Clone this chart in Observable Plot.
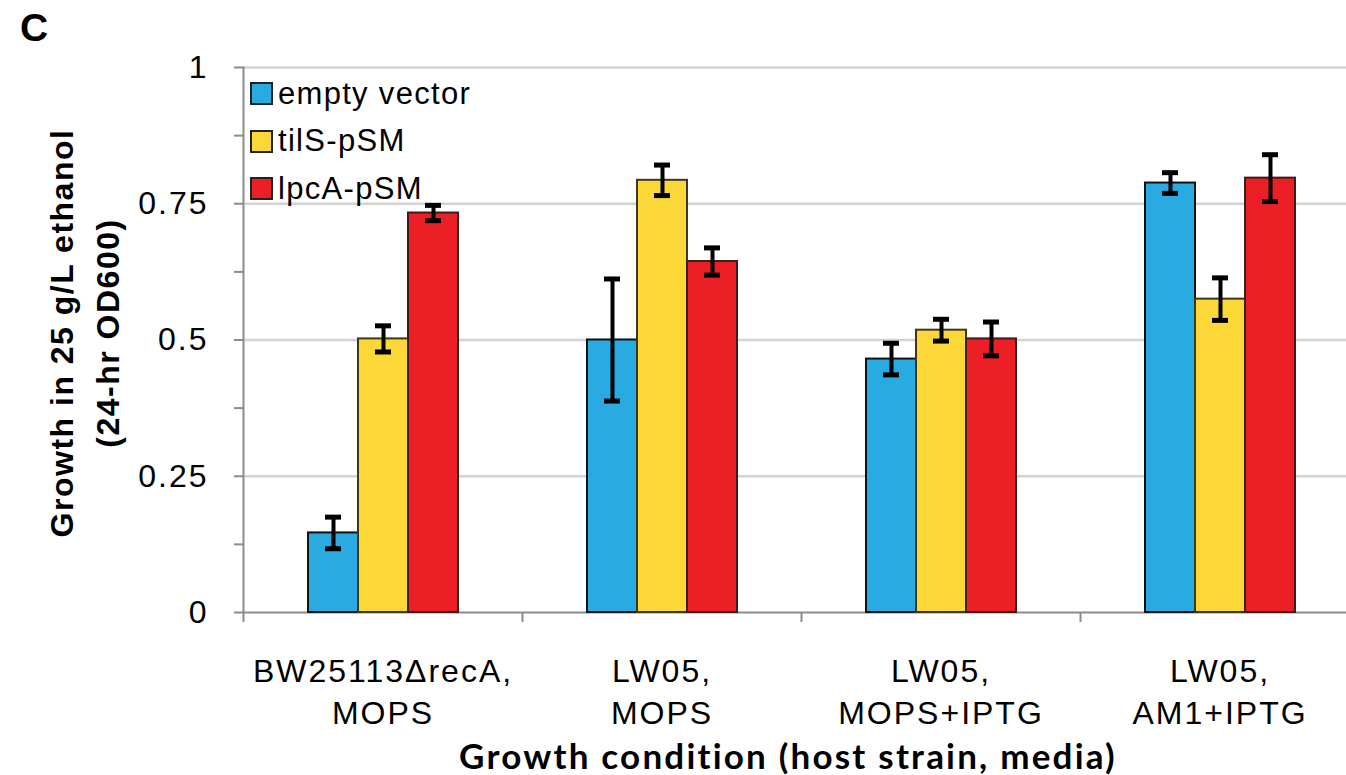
<!DOCTYPE html>
<html><head><meta charset="utf-8">
<script src="https://cdn.jsdelivr.net/npm/d3@7"></script>
<script src="https://cdn.jsdelivr.net/npm/@observablehq/plot@0.6"></script>
<style>
body{margin:0;background:#fff;}
#wrap{position:relative;width:1346px;height:775px;overflow:hidden;font-family:"Liberation Sans",Arial,sans-serif;color:#000;}
#wrap svg{position:absolute;left:0;top:0;}
.panel{position:absolute;left:20px;top:6px;font-size:39px;font-weight:bold;}
.ytitle{position:absolute;left:85px;top:333px;transform:translate(-50%,-50%) rotate(-90deg);white-space:nowrap;text-align:center;font-size:32px;font-weight:bold;line-height:46px;letter-spacing:1.5px;}
.xtitle{position:absolute;left:788px;top:755px;transform:translate(-50%,-50%);white-space:nowrap;font-family:Lato,"Open Sans",sans-serif;font-size:35px;line-height:35px;font-weight:bold;letter-spacing:2.2px;}
.legend{position:absolute;left:250px;top:70px;}
.legend .row{display:flex;align-items:center;height:47.5px;font-size:31px;letter-spacing:1.3px;}
.legend .sw{width:19px;height:19px;border:2px solid #222;margin-right:5px;flex:none;}
</style></head><body><div id="wrap"></div>
<script>
// ---- data ----
const conditions = ["BW25113ΔrecA,\nMOPS", "LW05,\nMOPS", "LW05,\nMOPS+IPTG", "LW05,\nAM1+IPTG"];
const series = ["empty vector", "tilS-pSM", "lpcA-pSM"];
const emptyVector    = [0.146, 0.500, 0.465, 0.788];
const emptyVectorErr = [0.029, 0.112, 0.029, 0.019];
const tilS           = [0.502, 0.793, 0.518, 0.575];
const tilSErr        = [0.024, 0.028, 0.020, 0.039];
const lpcA           = [0.733, 0.644, 0.502, 0.797];
const lpcAErr        = [0.014, 0.025, 0.031, 0.043];
const yTicks = [0, 0.125, 0.25, 0.375, 0.5, 0.625, 0.75, 0.875, 1];
const yMajor = [0, 0.25, 0.5, 0.75, 1];
const yTickLabels = ["0", "0.25", "0.5", "0.75", "1"];
const gridValues = [0.25, 0.5, 0.75, 1];
const colors = ["#29abe2", "#fbd737", "#ec1f26"];
const outlines = ["#111111", "#3d3620", "#3d1c1c"];
const panelLabel = "C";
const yTitle = ["Growth in 25 g/L ethanol", "(24-hr OD600)"];
const xTitle = "Growth condition (host strain, media)";

const values = [emptyVector, tilS, lpcA];
const errs = [emptyVectorErr, tilSErr, lpcAErr];
const rows = [];
conditions.forEach((c, i) => series.forEach((s, j) => rows.push({cond: c, series: s, value: values[j][i], err: errs[j][i]})));

const W = 1346, H = 775, mL = 243, mR = -13, mT = 67, mB = 163;
const step = (W - mL - mR) / conditions.length;
const font = '"Liberation Sans", Arial, sans-serif';

const barMarks = series.map((s, j) => Plot.barY(rows.filter(r => r.series === s), {
  fx: "cond", x: "series", y: "value", fill: colors[j], stroke: outlines[j], strokeWidth: 2
}));

const plot = Plot.plot({
  width: W, height: H,
  marginLeft: mL, marginRight: mR, marginTop: mT, marginBottom: mB,
  style: {fontFamily: font, background: "transparent", color: "#000"},
  fx: {domain: conditions, padding: 0, axis: null, label: null},
  x: {domain: series, paddingInner: 0, paddingOuter: 1.29, axis: null, label: null},
  y: {domain: [0, 1], axis: null, label: null},
  marks: [
    Plot.ruleY(gridValues, {stroke: "#d2d2d2", strokeWidth: 2.5}),
    Plot.ruleY([0], {stroke: "#8c8c8c", strokeWidth: 2}),
    ...barMarks,
    Plot.ruleX(rows, {fx: "cond", x: "series", y1: d => d.value - d.err, y2: d => d.value + d.err, stroke: "#000", strokeWidth: 4}),
    Plot.tickY(rows, {fx: "cond", x: "series", y: d => d.value - d.err, insetLeft: 17, insetRight: 17, stroke: "#000", strokeWidth: 5}),
    Plot.tickY(rows, {fx: "cond", x: "series", y: d => d.value + d.err, insetLeft: 17, insetRight: 17, stroke: "#000", strokeWidth: 5}),
    Plot.axisY({ticks: yTicks, tickSize: 9, tickPadding: 26, stroke: "#8c8c8c", strokeWidth: 2,
      tickFormat: d => { const k = yMajor.indexOf(d); return k < 0 ? "" : yTickLabels[k]; },
      fontSize: 32, fill: "#000", label: null}),
    Plot.frame({anchor: "left", facetAnchor: "left", stroke: "#8c8c8c", strokeWidth: 2}),
    Plot.axisFx({anchor: "bottom", tickSize: 0, tickPadding: 40, fontSize: 32, lineHeight: 1.3, fill: "#000", label: null}),
    Plot.axisFx({anchor: "bottom", tickSize: 10, tickFormat: () => "", dx: -step / 2, stroke: "#8c8c8c", strokeWidth: 2, label: null})
  ]
});

const wrap = document.getElementById("wrap");
wrap.appendChild(plot);
plot.querySelectorAll('[aria-label="fx-axis tick label"] text, [aria-label="y-axis tick label"] text').forEach(t => t.style.letterSpacing = "2px");

const pl = document.createElement("div"); pl.className = "panel"; pl.textContent = panelLabel; wrap.appendChild(pl);
const yt = document.createElement("div"); yt.className = "ytitle"; yt.innerHTML = yTitle.join("<br>"); wrap.appendChild(yt);
const xt = document.createElement("div"); xt.className = "xtitle"; xt.textContent = xTitle; wrap.appendChild(xt);
const lg = document.createElement("div"); lg.className = "legend";
series.forEach((s, j) => {
  const r = document.createElement("div"); r.className = "row";
  const sw = document.createElement("span"); sw.className = "sw"; sw.style.background = colors[j];
  const tx = document.createElement("span"); tx.textContent = s;
  r.appendChild(sw); r.appendChild(tx); lg.appendChild(r);
});
wrap.appendChild(lg);
</script>
</body></html>
